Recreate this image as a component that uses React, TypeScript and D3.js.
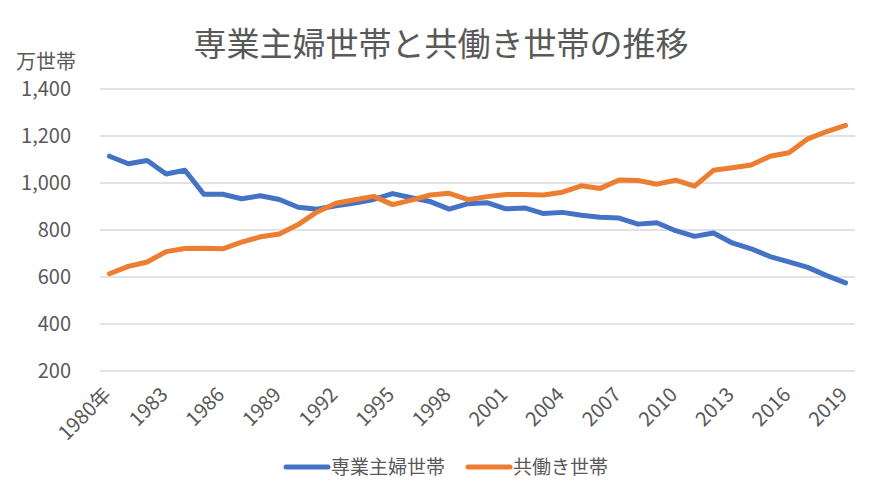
import React from "react";
import * as d3 from "d3";

const years = d3.range(1980, 2020);
const housewife = [
  1114, 1082, 1096, 1038, 1054, 952, 952, 933, 946, 930, 897, 888, 903, 915,
  930, 955, 937, 921, 889, 912, 916, 890, 894, 870, 875, 863, 854, 851, 825,
  831, 797, 773, 787, 745, 720, 687, 664, 641, 606, 575,
];
const dualIncome = [
  614, 645, 664, 708, 721, 722, 720, 748, 771, 783, 823, 877, 914, 929, 943,
  908, 927, 949, 956, 929, 942, 951, 951, 949, 961, 988, 977, 1013, 1011, 995,
  1012, 987, 1054, 1065, 1077, 1114, 1129, 1188, 1219, 1245,
];
const yTicks = [200, 400, 600, 800, 1000, 1200, 1400];
const seriesNames = ["専業主婦世帯", "共働き世帯"];
const colors = ["#4472C4", "#ED7D31"];

const font = "'Noto Sans CJK JP', 'Noto Sans', sans-serif";
const textColor = "#595959";

export default function App() {
  const width = 886;
  const height = 500;

  const x = d3
    .scaleBand<number>()
    .domain(years)
    .range([100, 855]);
  const cx = (yr: number) => (x(yr) as number) + x.bandwidth() / 2;

  const y = d3.scaleLinear().domain([200, 1400]).range([371, 89]);

  const line = d3
    .line<number>()
    .x((_, i) => cx(years[i]))
    .y((d) => y(d));

  const series = [housewife, dualIncome];
  const labelYears = years.filter((yr) => (yr - 1980) % 3 === 0);

  return (
    <div style={{ position: "fixed", left: 0, top: 0 }}>
      <svg width={width} height={height} style={{ display: "block", background: "#fff" }} fontFamily={font}>
        <text x={441} y={56} textAnchor="middle" fontSize={33} fill={textColor}>
          専業主婦世帯と共働き世帯の推移
        </text>
        <text x={16} y={69} fontSize={20} fill={textColor}>
          万世帯
        </text>

        {yTicks.map((t) => (
          <g key={t}>
            <line x1={100} x2={855} y1={y(t)} y2={y(t)} stroke="#d9d9d9" strokeWidth={1.5} />
            <text x={71} y={y(t)} dy="0.35em" textAnchor="end" fontSize={20} fill={textColor}>
              {d3.format(",")(t)}
            </text>
          </g>
        ))}

        {labelYears.map((yr) => (
          <text
            key={yr}
            transform={`translate(${cx(yr) + 3},${396}) rotate(-45)`}
            textAnchor="end"
            fontSize={20}
            fill={textColor}
          >
            {yr === 1980 ? "1980年" : String(yr)}
          </text>
        ))}

        {series.map((s, i) => (
          <path
            key={i}
            d={line(s) as string}
            fill="none"
            stroke={colors[i]}
            strokeWidth={5}
            strokeLinejoin="round"
            strokeLinecap="round"
          />
        ))}

        {[
          [286, 328, 331],
          [468, 510, 513],
        ].map(([x1, x2, tx], i) => (
          <g key={i}>
            <line x1={x1} x2={x2} y1={467} y2={467} stroke={colors[i]} strokeWidth={5} strokeLinecap="round" />
            <text x={tx} y={467} dy="0.35em" fontSize={19} fill={textColor}>
              {seriesNames[i]}
            </text>
          </g>
        ))}
      </svg>
    </div>
  );
}
